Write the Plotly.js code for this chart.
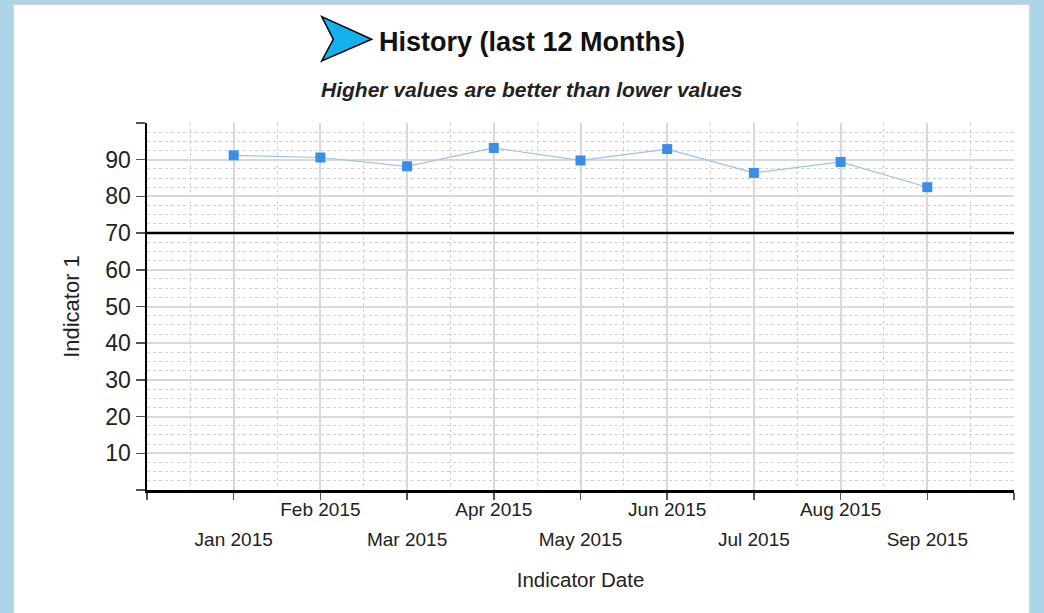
<!DOCTYPE html>
<html>
<head>
<meta charset="utf-8">
<script src="https://cdn.plot.ly/plotly-3.0.1.min.js"></script>
<style>
html,body{margin:0;padding:0;background:#acd6e7;width:1044px;height:613px;overflow:hidden;}
#panel{position:absolute;left:13px;top:4px;width:1017px;height:640px;background:#fff;border:1px solid #d4d4d4;box-sizing:border-box;}
#chart{position:absolute;left:0;top:0;width:1044px;height:613px;}
</style>
</head>
<body>
<div id="panel"></div>
<div id="chart"></div>
<script>
// ---- data ----
const months = ['Jan 2015','Feb 2015','Mar 2015','Apr 2015','May 2015','Jun 2015','Jul 2015','Aug 2015','Sep 2015'];
const indicator1 = [91.2, 90.6, 88.2, 93.2, 89.8, 92.9, 86.4, 89.4, 82.5];
const threshold = 70;
const yTickValues = [0,10,20,30,40,50,60,70,80,90,100];
const yTickLabels = ['','10','20','30','40','50','60','70','80','90',''];
const chartTitle = 'History (last 12 Months)';
const chartSubtitle = 'Higher values are better than lower values';
const xTitle = 'Indicator Date';
const yTitle = 'Indicator 1';

// ---- derived positions (category index) ----
const xIdx = months.map((m, i) => i);
const xTickPositions = [-1].concat(xIdx, [months.length]);
const row2Vals = xIdx.filter(i => i % 2 === 0);
const xTickText = xTickPositions.map(i => (i >= 0 && i < months.length && i % 2 === 1) ? months[i] : '');

const FONT = 'Liberation Sans, Arial, Helvetica, sans-serif';
const xRange = [-1, months.length];

const traces = [
  {
    type: 'scatter', mode: 'lines+markers',
    x: xIdx, y: indicator1,
    line: {color: '#9dc1ee', width: 1.2},
    marker: {symbol: 'square', size: 10, color: '#3a8ee8'},
    showlegend: false, hoverinfo: 'x+y'
  },
  {
    type: 'scatter', mode: 'none',
    x: xIdx, y: indicator1, xaxis: 'x2',
    showlegend: false, hoverinfo: 'skip'
  }
];

const layout = {
  width: 1044, height: 613,
  paper_bgcolor: 'rgba(0,0,0,0)', plot_bgcolor: 'rgba(0,0,0,0)',
  margin: {l: 147, r: 30, t: 123, b: 123},
  font: {family: FONT, color: '#222'},
  showlegend: false,
  title: {
    text: '<b>' + chartTitle + '</b>',
    font: {family: FONT, size: 27, color: '#111'},
    xref: 'container', x: 0.5096, xanchor: 'center',
    yref: 'container', y: 0.933, yanchor: 'middle'
  },
  xaxis: {
    range: xRange, type: 'linear',
    tickmode: 'array', tickvals: xTickPositions, ticktext: xTickText,
    ticks: 'outside', ticklen: 7, tickwidth: 1.5, tickcolor: '#555',
    ticklabelstandoff: -6,
    tickfont: {family: FONT, size: 19, color: '#222'},
    showline: true, linecolor: '#000', linewidth: 2.5,
    showgrid: true, gridcolor: '#d9d9d9', gridwidth: 2,
    zeroline: false,
    minor: {tickmode: 'linear', tick0: -1, dtick: 0.5, showgrid: true, gridcolor: '#d2d2d2', griddash: 'dot', gridwidth: 1, ticks: ''},
    title: {text: xTitle, font: {family: FONT, size: 20.5, color: '#222'}, standoff: 54}
  },
  xaxis2: {
    overlaying: 'x', anchor: 'y', side: 'bottom', matches: 'x',
    range: xRange, type: 'linear',
    tickmode: 'array', tickvals: row2Vals, ticktext: row2Vals.map(i => months[i]),
    ticks: '', ticklabelstandoff: 36,
    tickfont: {family: FONT, size: 19, color: '#222'},
    showline: false, showgrid: false, zeroline: false
  },
  yaxis: {
    range: [0, 100],
    tickmode: 'array', tickvals: yTickValues, ticktext: yTickLabels,
    ticks: 'outside', ticklen: 9, tickwidth: 1.5, tickcolor: '#555',
    tickfont: {family: FONT, size: 23, color: '#222'},
    showline: true, linecolor: '#000', linewidth: 2.5,
    showgrid: true, gridcolor: '#d9d9d9', gridwidth: 2,
    zeroline: false,
    minor: {tickmode: 'linear', tick0: 0, dtick: 2.5, showgrid: true, gridcolor: '#d2d2d2', griddash: 'dot', gridwidth: 1, ticks: ''},
    title: {text: yTitle, font: {family: FONT, size: 22, color: '#222'}, standoff: 20}
  },
  shapes: [
    {type: 'line', xref: 'paper', x0: 0, x1: 1, yref: 'y', y0: threshold, y1: threshold,
     line: {color: '#000', width: 2.5}, layer: 'above'},
    {type: 'path', xref: 'paper', yref: 'paper',
     path: 'M 0.2015 1.2897 L 0.2592 1.2281 L 0.2015 1.1689 L 0.2149 1.2281 Z',
     fillcolor: '#14b1ee', line: {color: '#000', width: 1.5}}
  ],
  annotations: [
    {text: '<b><i>' + chartSubtitle + '</i></b>', xref: 'paper', yref: 'paper',
     x: 0.444, y: 1.09, xanchor: 'center', yanchor: 'middle', showarrow: false,
     font: {family: FONT, size: 21, color: '#222'}}
  ]
};

Plotly.newPlot('chart', traces, layout, {displayModeBar: false, staticPlot: true});
</script>
</body>
</html>
